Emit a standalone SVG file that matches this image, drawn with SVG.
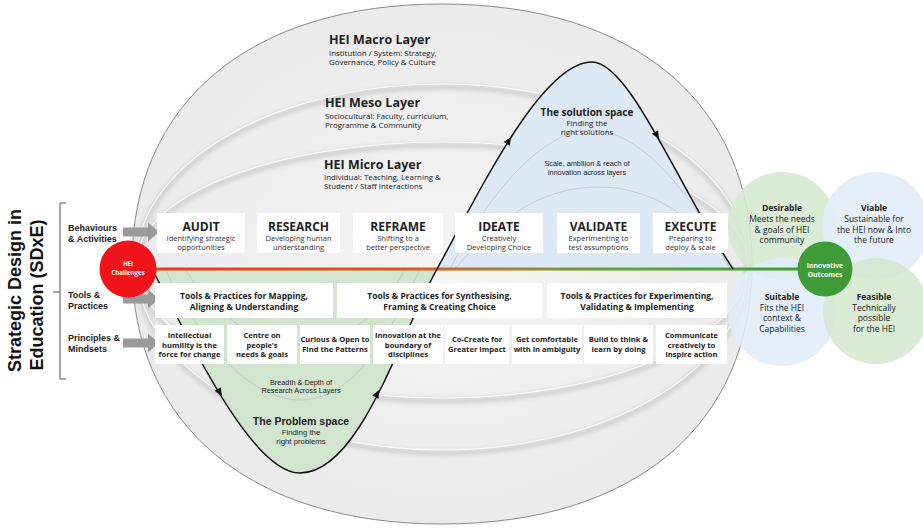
<svg xmlns="http://www.w3.org/2000/svg" width="923" height="528" viewBox="0 0 923 528">
<style>
.o{font-family:"Open Sans","Noto Sans",sans-serif;fill:#222}
.l{font-family:"Liberation Sans",Arial,sans-serif;fill:#222}
.bd{font-weight:bold}
.c{text-anchor:middle}
.box{fill:#fff}
.shadow{fill:none;stroke:#cfcfcf;stroke-width:5;filter:url(#blur)}
.hl{fill:none;stroke:#fbfbfb;stroke-width:1.2}
.faint{fill:none;stroke:#b9bfc4;stroke-width:0.7}
.t1{font-size:12px}
.t2{font-size:7.5px;fill:#333}
.t3{font-size:8.5px}
.t4{font-size:7.6px}
.cir{font-size:8.5px}
</style>
<defs>
<radialGradient id="bg" cx="0.5" cy="0.5" r="0.5">
<stop offset="0" stop-color="#f5f5f5"/>
<stop offset="1" stop-color="#ebebeb"/>
</radialGradient>
<linearGradient id="lineg" gradientUnits="userSpaceOnUse" x1="155" y1="0" x2="800" y2="0">
<stop offset="0" stop-color="#ea3c1a"/>
<stop offset="0.38" stop-color="#e3531e"/>
<stop offset="0.56" stop-color="#a9832c"/>
<stop offset="0.72" stop-color="#5aa83a"/>
<stop offset="1" stop-color="#3f9c35"/>
</linearGradient>
<filter id="blur" x="-10%" y="-10%" width="120%" height="120%"><feGaussianBlur stdDeviation="2"/></filter>
<path id="ah" d="M0,0 L-8,-3.6 L-8,3.6 Z" fill="#111"/>
<path id="garrow" d="M0,-4.5 H25 V-9.5 L36,0 L25,9.5 V4.5 H0 Z" fill="#9a9a9a"/>
</defs>

<!-- Outer layers shape -->
<g id="layers">
<path d="M132,264 C132,103 250,4 442,4 C634,4 752,103 752,264 C752,425 634,524 442,524 C250,524 132,425 132,264 Z" fill="url(#bg)" stroke="#7f7f7f" stroke-width="0.9"/>
<g transform="translate(0,3)">
<path class="shadow" d="M136,264 A306,180 0 0 1 748,264"/>
<path class="shadow" d="M136,264 A306,122 0 0 1 748,264"/>
<path class="shadow" d="M136,264 A306,134 0 0 0 748,264"/>
<path class="shadow" d="M136,264 A306,186 0 0 0 748,264"/>
</g>
<path class="hl" d="M136,264 A306,180 0 0 1 748,264"/>
<path class="hl" d="M136,264 A306,122 0 0 1 748,264"/>
<path class="hl" d="M136,264 A306,134 0 0 0 748,264"/>
<path class="hl" d="M136,264 A306,186 0 0 0 748,264"/>
</g>

<g id="layer-text">
<text class="o bd" x="329" y="43.5" font-size="12.5">HEI Macro Layer</text>
<text class="o" x="329" y="55.5" font-size="7.9">Institution / System:  Strategy,</text>
<text class="o" x="329" y="65" font-size="7.9">Governance, Policy &amp; Culture</text>
<text class="o bd" x="325" y="106.5" font-size="12.5">HEI Meso Layer</text>
<text class="o" x="325" y="118.5" font-size="7.9">Sociocultural: Faculty, curriculum,</text>
<text class="o" x="325" y="127.5" font-size="7.9">Programme &amp;  Community</text>
<text class="o bd" x="324" y="168.5" font-size="12.5">HEI Micro Layer</text>
<text class="o" x="324" y="179.5" font-size="7.9">Individual: Teaching, Learning &amp;</text>
<text class="o" x="324" y="188.5" font-size="7.9">Student / Staff Interactions</text>
</g>

<!-- Problem / solution spaces -->
<g id="problem-space">
<path d="M152,269 C185,330 250,473 300,473 C360,473 400,335 437,269 Z" fill="#d2e5cf"/>
<path class="faint" d="M165,269 C190,320 240,400 300,400 C360,400 395,320 420,269"/>
<path class="faint" d="M185,269 C210,310 255,345 300,345 C345,345 385,310 405,269"/>
<text class="l c" x="301" y="384.5" font-size="7.3">Breadth &amp; Depth of</text>
<text class="l c" x="301" y="393" font-size="7.3">Research Across Layers</text>
<text class="l bd c" x="301" y="424.5" font-size="10.5">The Problem space</text>
<text class="l c" x="301" y="435" font-size="7.8">Finding the</text>
<text class="l c" x="301" y="444" font-size="7.8">right problems</text>
</g>
<g id="solution-space">
<path d="M437,269 C475,201 540,62 592,62 C630,62 680,190 733,269 Z" fill="#dde9f4"/>
<path class="faint" d="M450,269 C490,190 545,130 590,130 C640,130 690,190 730,269"/>
<path class="faint" d="M455,269 C500,215 545,187 598,187 C650,187 695,215 735,269"/>
<text class="o bd c" x="587" y="115.5" font-size="10">The solution space</text>
<text class="o c" x="587" y="126" font-size="7.9">Finding the</text>
<text class="o c" x="587" y="135" font-size="7.9">right solutions</text>
<text class="l c" x="587" y="165.5" font-size="7.3">Scale, ambition &amp; reach of</text>
<text class="l c" x="587" y="174.5" font-size="7.3">innovation across layers</text>
</g>

<!-- Outcome criteria circles -->
<g id="desirable">
<circle cx="782" cy="226" r="54" fill="#d5e8d0" fill-opacity="0.88"/>
<text class="o bd c cir" x="782" y="211">Desirable</text>
<text class="o c cir" x="782" y="222">Meets the needs</text>
<text class="o c cir" x="782" y="232.5">&amp; goals of HEI</text>
<text class="o c cir" x="782" y="243">community</text>
</g>
<g id="viable">
<circle cx="876" cy="226" r="54" fill="#e1edf8" fill-opacity="0.88"/>
<text class="o bd c cir" x="874" y="211">Viable</text>
<text class="o c cir" x="874" y="222">Sustainable for</text>
<text class="o c cir" x="874" y="232.5">the HEI now &amp; Into</text>
<text class="o c cir" x="874" y="243">the future</text>
</g>
<g id="suitable">
<circle cx="782" cy="312" r="54" fill="#e1edf8" fill-opacity="0.88"/>
<text class="o bd c cir" x="782" y="300">Suitable</text>
<text class="o c cir" x="782" y="310.5">Fits the HEI</text>
<text class="o c cir" x="782" y="321">context &amp;</text>
<text class="o c cir" x="782" y="331.5">Capabilities</text>
</g>
<g id="feasible">
<circle cx="876" cy="311" r="53" fill="#d5e8d0" fill-opacity="0.88"/>
<text class="o bd c cir" x="874" y="300">Feasible</text>
<text class="o c cir" x="874" y="310.5">Technically</text>
<text class="o c cir" x="874" y="321">possible</text>
<text class="o c cir" x="874" y="331.5">for the HEI</text>
</g>

<!-- Connectors -->
<g id="connectors">
<line x1="150" y1="269" x2="800" y2="269" stroke="url(#lineg)" stroke-width="3"/>
<path d="M152,269 C185,330 250,473 300,473 C360,473 400,335 437,269 C475,201 540,62 592,62 C630,62 680,190 733,269" fill="none" stroke="#111" stroke-width="1.5"/>
<use href="#ah" transform="translate(222,396) rotate(58)"/>
<use href="#ah" transform="translate(379,390) rotate(-63)"/>
<use href="#ah" transform="translate(511,137) rotate(-58)"/>
<use href="#ah" transform="translate(659,139) rotate(60)"/>
<use href="#garrow" transform="translate(123,232)"/>
<use href="#garrow" transform="translate(123,299)"/>
<use href="#garrow" transform="translate(123,343)"/>
</g>

<!-- Behaviours & Activities -->
<g id="audit">
<rect class="box" x="157" y="213" width="88" height="40"/>
<text class="o bd c t1" x="201" y="230.5">AUDIT</text>
<text class="o c t2" x="201" y="241">Identifying strategic</text>
<text class="o c t2" x="201" y="249.5">opportunities</text>
</g>
<g id="research">
<rect class="box" x="257" y="213" width="83" height="40"/>
<text class="o bd c t1" x="298.5" y="230.5">RESEARCH</text>
<text class="o c t2" x="298.5" y="241">Developing human</text>
<text class="o c t2" x="298.5" y="249.5">understanding</text>
</g>
<g id="reframe">
<rect class="box" x="353" y="213" width="90" height="40"/>
<text class="o bd c t1" x="398" y="230.5">REFRAME</text>
<text class="o c t2" x="398" y="241">Shifting to a</text>
<text class="o c t2" x="398" y="249.5">better perspective</text>
</g>
<g id="ideate">
<rect class="box" x="455" y="213" width="88" height="40"/>
<text class="o bd c t1" x="499" y="230.5">IDEATE</text>
<text class="o c t2" x="499" y="241">Creatively</text>
<text class="o c t2" x="499" y="249.5">Developing Choice</text>
</g>
<g id="validate">
<rect class="box" x="557" y="213" width="83" height="40"/>
<text class="o bd c t1" x="598.5" y="230.5">VALIDATE</text>
<text class="o c t2" x="598.5" y="241">Experimenting to</text>
<text class="o c t2" x="598.5" y="249.5">test assumptions</text>
</g>
<g id="execute">
<rect class="box" x="653" y="213" width="75" height="40"/>
<text class="o bd c t1" x="690.5" y="230.5">EXECUTE</text>
<text class="o c t2" x="690.5" y="241">Preparing to</text>
<text class="o c t2" x="690.5" y="249.5">deploy  &amp; scale</text>
</g>

<!-- Tools & Practices -->
<g id="tools-mapping">
<rect class="box" x="155" y="283" width="178" height="35"/>
<text class="o bd c t3" x="244" y="299">Tools &amp; Practices for Mapping,</text>
<text class="o bd c t3" x="244" y="310">Aligning &amp; Understanding</text>
</g>
<g id="tools-synthesising">
<rect class="box" x="337" y="283" width="205" height="35"/>
<text class="o bd c t3" x="439.5" y="299">Tools &amp; Practices for Synthesising,</text>
<text class="o bd c t3" x="439.5" y="310">Framing &amp; Creating Choice</text>
</g>
<g id="tools-experimenting">
<rect class="box" x="547" y="283" width="180" height="35"/>
<text class="o bd c t3" x="637" y="299">Tools &amp; Practices for Experimenting,</text>
<text class="o bd c t3" x="637" y="310">Validating &amp; Implementing</text>
</g>

<!-- Principles & Mindsets -->
<g id="p1">
<rect class="box" x="155" y="325" width="69" height="39"/>
<text class="o bd c t4" x="189.5" y="338">Intellectual</text>
<text class="o bd c t4" x="189.5" y="347.5">humility is the</text>
<text class="o bd c t4" x="189.5" y="357">force for change</text>
</g>
<g id="p2">
<rect class="box" x="227" y="325" width="70" height="39"/>
<text class="o bd c t4" x="262" y="338">Centre on</text>
<text class="o bd c t4" x="262" y="347.5">people’s</text>
<text class="o bd c t4" x="262" y="357">needs &amp; goals</text>
</g>
<g id="p3">
<rect class="box" x="300" y="325" width="70" height="39"/>
<text class="o bd c t4" x="335" y="342">Curious &amp; Open to</text>
<text class="o bd c t4" x="335" y="352">Find the Patterns</text>
</g>
<g id="p4">
<rect class="box" x="373" y="325" width="70" height="39"/>
<text class="o bd c t4" x="408" y="338">Innovation at the</text>
<text class="o bd c t4" x="408" y="347.5">boundary of</text>
<text class="o bd c t4" x="408" y="357">disciplines</text>
</g>
<g id="p5">
<rect class="box" x="445" y="325" width="64" height="39"/>
<text class="o bd c t4" x="477" y="342">Co-Create for</text>
<text class="o bd c t4" x="477" y="352">Greater Impact</text>
</g>
<g id="p6">
<rect class="box" x="512" y="325" width="70" height="39"/>
<text class="o bd c t4" x="547" y="342">Get comfortable</text>
<text class="o bd c t4" x="547" y="352">with in ambiguity</text>
</g>
<g id="p7">
<rect class="box" x="584" y="325" width="69" height="39"/>
<text class="o bd c t4" x="618.5" y="342">Build to think &amp;</text>
<text class="o bd c t4" x="618.5" y="352">learn by doing</text>
</g>
<g id="p8">
<rect class="box" x="656" y="325" width="71" height="39"/>
<text class="o bd c t4" x="691.5" y="338">Communicate</text>
<text class="o bd c t4" x="691.5" y="347.5">creatively to</text>
<text class="o bd c t4" x="691.5" y="357">inspire action</text>
</g>

<!-- Start / end nodes -->
<g id="hei-challenges">
<circle cx="128" cy="269" r="28.5" fill="#f0141a"/>
<text class="o bd c" x="128" y="265.5" font-size="6.2" fill="#fff" style="fill:#fff">HEI</text>
<text class="o bd c" x="128" y="274.5" font-size="6.2" style="fill:#fff">Challenges</text>
</g>
<g id="innovative-outcomes">
<circle cx="825" cy="269" r="27.5" fill="#3e9b35"/>
<text class="o bd c" x="825" y="268.3" font-size="6.8" style="fill:#fff">Innovative</text>
<text class="o bd c" x="825" y="276.8" font-size="6.8" style="fill:#fff">Outcomes</text>
</g>

<!-- Left side labels -->
<g id="title">
<text class="l bd c" transform="translate(21,290.5) rotate(-90)" font-size="18" style="fill:#111">Strategic Design in</text>
<text class="l bd c" transform="translate(43,295) rotate(-90)" font-size="18" style="fill:#111">Education (SDxE)</text>
<path d="M66,203 H60 V379 H66 M60,292 H53" fill="none" stroke="#555" stroke-width="1"/>
</g>
<g id="row-labels">
<text class="l bd" x="68" y="231" font-size="9">Behaviours</text>
<text class="l bd" x="68" y="242" font-size="9">&amp; Activities</text>
<text class="l bd" x="68" y="298" font-size="9">Tools &amp;</text>
<text class="l bd" x="68" y="309" font-size="9">Practices</text>
<text class="l bd" x="68" y="341" font-size="9">Principles &amp;</text>
<text class="l bd" x="68" y="352" font-size="9">Mindsets</text>
</g>
</svg>
